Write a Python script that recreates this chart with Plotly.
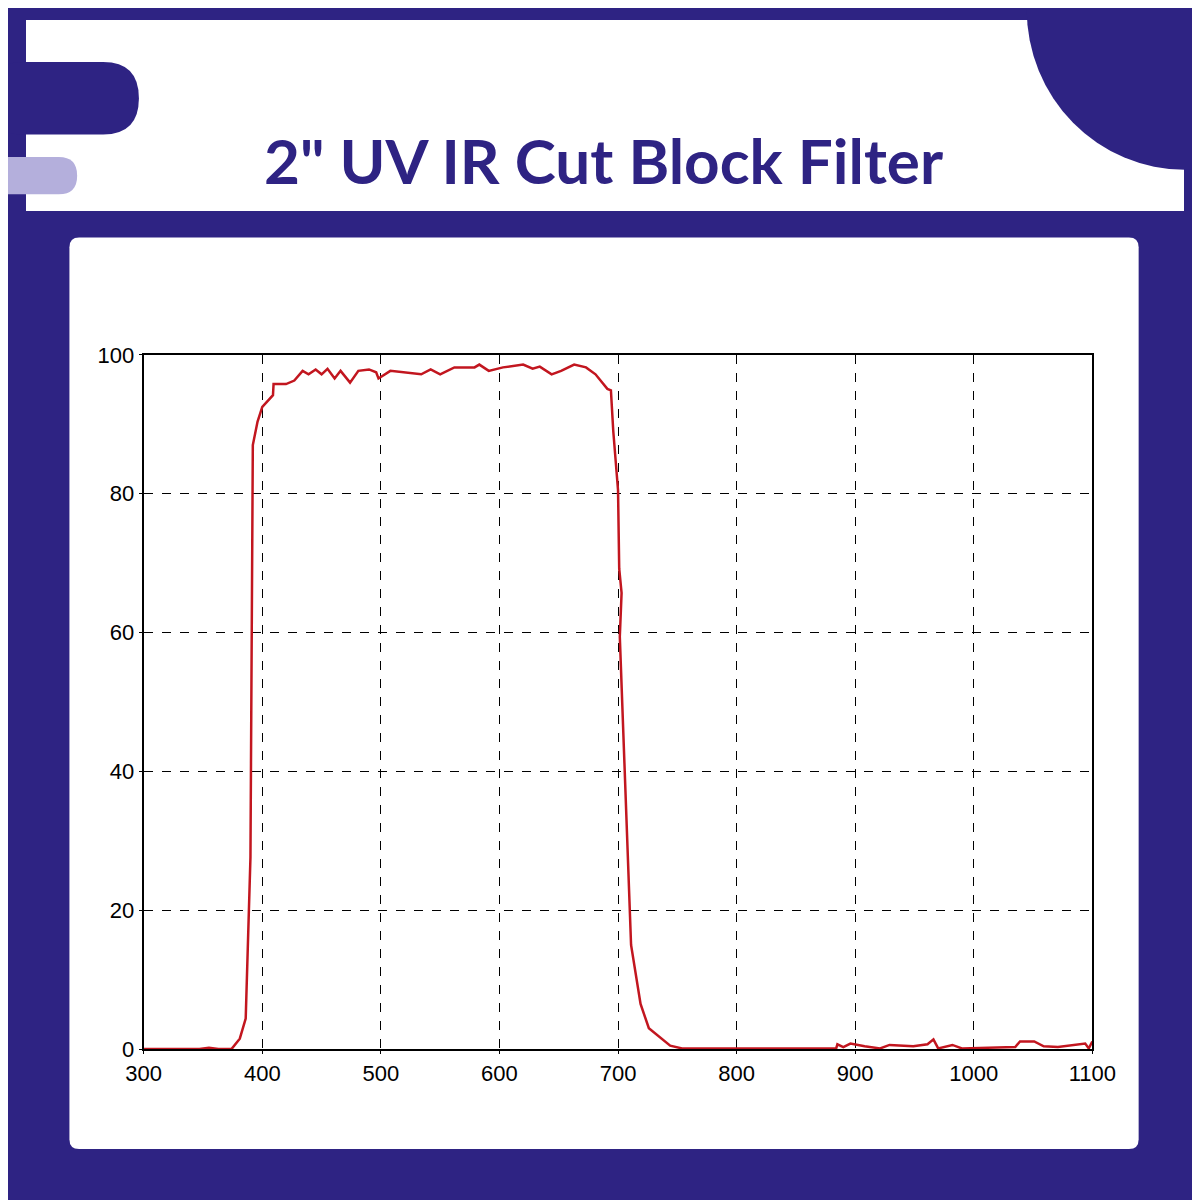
import plotly.graph_objects as go

wavelength = [300, 347, 355, 363, 374, 381, 386, 388, 390, 392, 396, 400, 409, 409.5, 420, 427, 434, 439,
              445, 450, 455, 461, 466, 474, 481, 490, 496, 498, 508, 534, 542, 550, 562, 579, 583,
              591, 603, 620, 628, 634, 644, 652, 663, 673, 681, 691, 694, 696, 700, 701, 703, 701.5,
              705, 709, 711, 719, 726, 744, 754, 884, 885, 890, 896, 908, 921, 929, 949, 961, 966,
              970, 982, 990, 1035, 1039, 1051, 1059, 1071, 1094, 1097, 1100]
transmission = [0, 0, 0.2, 0, 0, 1.5, 4.4, 15, 27.6, 87, 90.4, 92.5, 94.2, 95.8, 95.8, 96.3, 97.7, 97.2,
                97.9, 97.2, 98, 96.6, 97.7, 96, 97.7, 97.9, 97.5, 96.6, 97.7, 97.2, 97.9, 97.2, 98.2,
                98.2, 98.6, 97.7, 98.2, 98.6, 98, 98.3, 97.2, 97.7, 98.6, 98.2, 97.2, 95.1, 94.9, 89,
                80.5, 69.2, 65.7, 59.4, 42.5, 25.5, 15, 6.5, 3, 0.5, 0.1, 0.1, 0.7, 0.3, 0.8, 0.4, 0.1,
                0.6, 0.4, 0.7, 1.4, 0.1, 0.6, 0.1, 0.3, 1.1, 1.1, 0.4, 0.3, 0.8, 0.1, 1.1]

PURPLE = "#2e2383"
LIGHT = "#b4afdc"
W = H = 1200


def px(x):
    return x / W


def py(y):
    return 1 - y / H


def rrect(x0, y0, x1, y1, r):
    return (f"M{px(x0 + r)},{py(y0)} L{px(x1 - r)},{py(y0)} Q{px(x1)},{py(y0)} {px(x1)},{py(y0 + r)} "
            f"L{px(x1)},{py(y1 - r)} Q{px(x1)},{py(y1)} {px(x1 - r)},{py(y1)} "
            f"L{px(x0 + r)},{py(y1)} Q{px(x0)},{py(y1)} {px(x0)},{py(y1 - r)} "
            f"L{px(x0)},{py(y0 + r)} Q{px(x0)},{py(y0)} {px(x0 + r)},{py(y0)} Z")


fig = go.Figure(go.Scatter(x=wavelength, y=transmission, mode="lines",
                           line=dict(color="#c2161f", width=2.5), hoverinfo="skip"))

shapes = [
    dict(type="rect", xref="paper", yref="paper", x0=0, x1=1, y0=py(195), y1=1,
         fillcolor="white", line_width=0, layer="below"),
    dict(type="path", xref="paper", yref="paper", path=rrect(45, 222, 1153, 1153, 10),
         fillcolor="white", line_width=0, layer="below"),
    dict(type="path", xref="paper", yref="paper", path=rrect(-40, 43, 117, 117, 37),
         fillcolor=PURPLE, line_width=0, layer="below"),
    dict(type="path", xref="paper", yref="paper", path=rrect(-40, 140, 53, 178, 19),
         fillcolor=LIGHT, line_width=0, layer="below"),
    dict(type="circle", xref="paper", yref="paper", x0=px(1037), x1=px(1365), y0=py(153), y1=py(-175),
         fillcolor=PURPLE, line_width=0, layer="below"),
]

fig.update_layout(
    width=W, height=H, margin=dict(l=0, r=0, t=0, b=0),
    paper_bgcolor=PURPLE, plot_bgcolor="white", showlegend=False, shapes=shapes,
    font=dict(family="Liberation Sans Narrow, Liberation Sans, Arial", size=22, color="black"),
    annotations=[dict(text="<b>2\" UV IR Cut Block Filter</b>", xref="paper", yref="paper",
                      x=px(598), y=py(103), showarrow=False,
                      font=dict(family="Lato, Open Sans, sans-serif", size=62, color=PURPLE))],
    xaxis=dict(domain=[px(122), px(1105)], range=[300, 1100], dtick=100, tick0=300,
               showgrid=True, gridcolor="black", griddash="dash", gridwidth=1,
               showline=True, linecolor="black", linewidth=2, mirror=True, zeroline=False,
               ticks="outside", ticklen=3, tickcolor="black"),
    yaxis=dict(domain=[py(1051), py(342)], range=[0, 100], dtick=20,
               showgrid=True, gridcolor="black", griddash="dash", gridwidth=1,
               showline=True, linecolor="black", linewidth=2, mirror=True, zeroline=False,
               ticks="outside", ticklen=3, tickcolor="black"),
)

fig.write_html("out.html")
